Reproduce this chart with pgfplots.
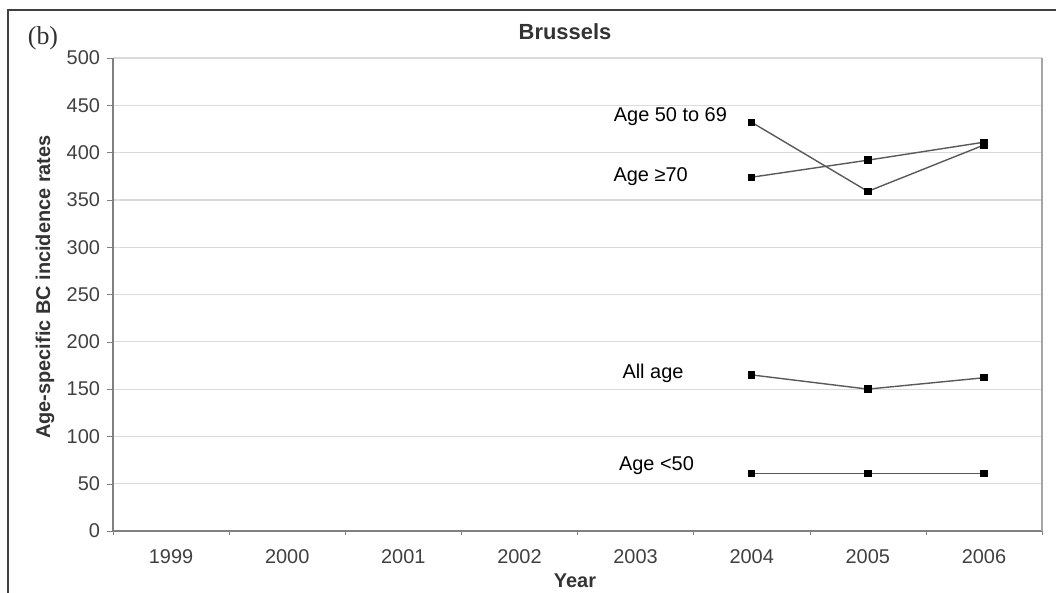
\documentclass[border=0pt]{standalone}
\usepackage{pgfplots}
\pgfplotsset{compat=1.18}
\usepackage{fontspec}
\setmainfont{Liberation Sans}
\newfontfamily\serif{Liberation Serif}

\definecolor{axgray}{gray}{0.5}
\definecolor{gridgray}{gray}{0.86}
\definecolor{linegray}{gray}{0.35}

\pgfplotsset{series/.style={linegray, line width=0.7pt, mark=square*,
    mark size=1.5bp, mark options={black, fill=black, solid}}}

\begin{document}
\begin{tikzpicture}[x=1bp,y=1bp]
\clip (-56.5,-30.5) rectangle (471.5,265.5);
\begin{axis}[
    at={(0,0)}, anchor=south west,
    scale only axis,
    width=464.5bp, height=236.5bp,
    xmin=-0.5, xmax=7.5,
    ymin=0, ymax=500,
    xtick={0,...,7},
    xticklabels={1999,2000,2001,2002,2003,2004,2005,2006},
    major x tick style={draw=none},
    minor xtick={-0.5,0.5,...,7.5},
    minor x tick style={axgray},
    ytick={0,50,...,500},
    y tick style={axgray},
    tick align=outside,
    tick pos=left,
    major tick length=3bp,
    minor tick length=2bp,
    ymajorgrids,
    grid style={gridgray, line width=0.6pt},
    axis line style={draw=none},
    /pgf/number format/assume math mode=true,
    tick label style={font=\fontsize{10}{12}\selectfont, text=black!75},
    xticklabel style={yshift=-3bp},
    clip=false,
]
\draw[axgray, line width=0.9pt] (rel axis cs:0,0) -- (rel axis cs:0,1);
\draw[axgray, line width=0.9pt] (rel axis cs:0,0) -- (rel axis cs:1,0);
\draw[axgray!70, line width=0.8pt] (rel axis cs:1,0) -- (rel axis cs:1,1);

% Age 50 to 69
\addplot[series] coordinates {(5,432) (6,359) (7,408)};
% Age >=70
\addplot[series] coordinates {(5,374) (6,392) (7,411)};
% All age
\addplot[series] coordinates {(5,165) (6,150) (7,162)};
% Age <50
\addplot[series] coordinates {(5,61) (6,61) (7,61)};

\pgfplotsset{every node/.style={font=\fontsize{10}{12}\selectfont, text=black!80}}
\node at (axis cs:4.3,438) {Age 50 to 69};
\node at (axis cs:4.13,375) {Age ≥70};
\node at (axis cs:4.15,167) {All age};
\node at (axis cs:4.18,69) {Age <50};
\end{axis}
\draw[black!75, line width=0.8pt] (-52.5,-40) -- (-52.5,260.5) -- (480,260.5);
\node[font=\bfseries\fontsize{11}{13}\selectfont, text=black!80] at (226,249.5) {Brussels};
\node[font=\serif\fontsize{13}{15}\selectfont, text=black!80] at (-35,246.5) {(b)};
\node[rotate=90, font=\bfseries\fontsize{10}{12}\selectfont, text=black!80] at (-34,122) {Age-specific BC incidence rates};
\node[font=\bfseries\fontsize{10}{12}\selectfont, text=black!80] at (231,-25) {Year};
\end{tikzpicture}
\end{document}
